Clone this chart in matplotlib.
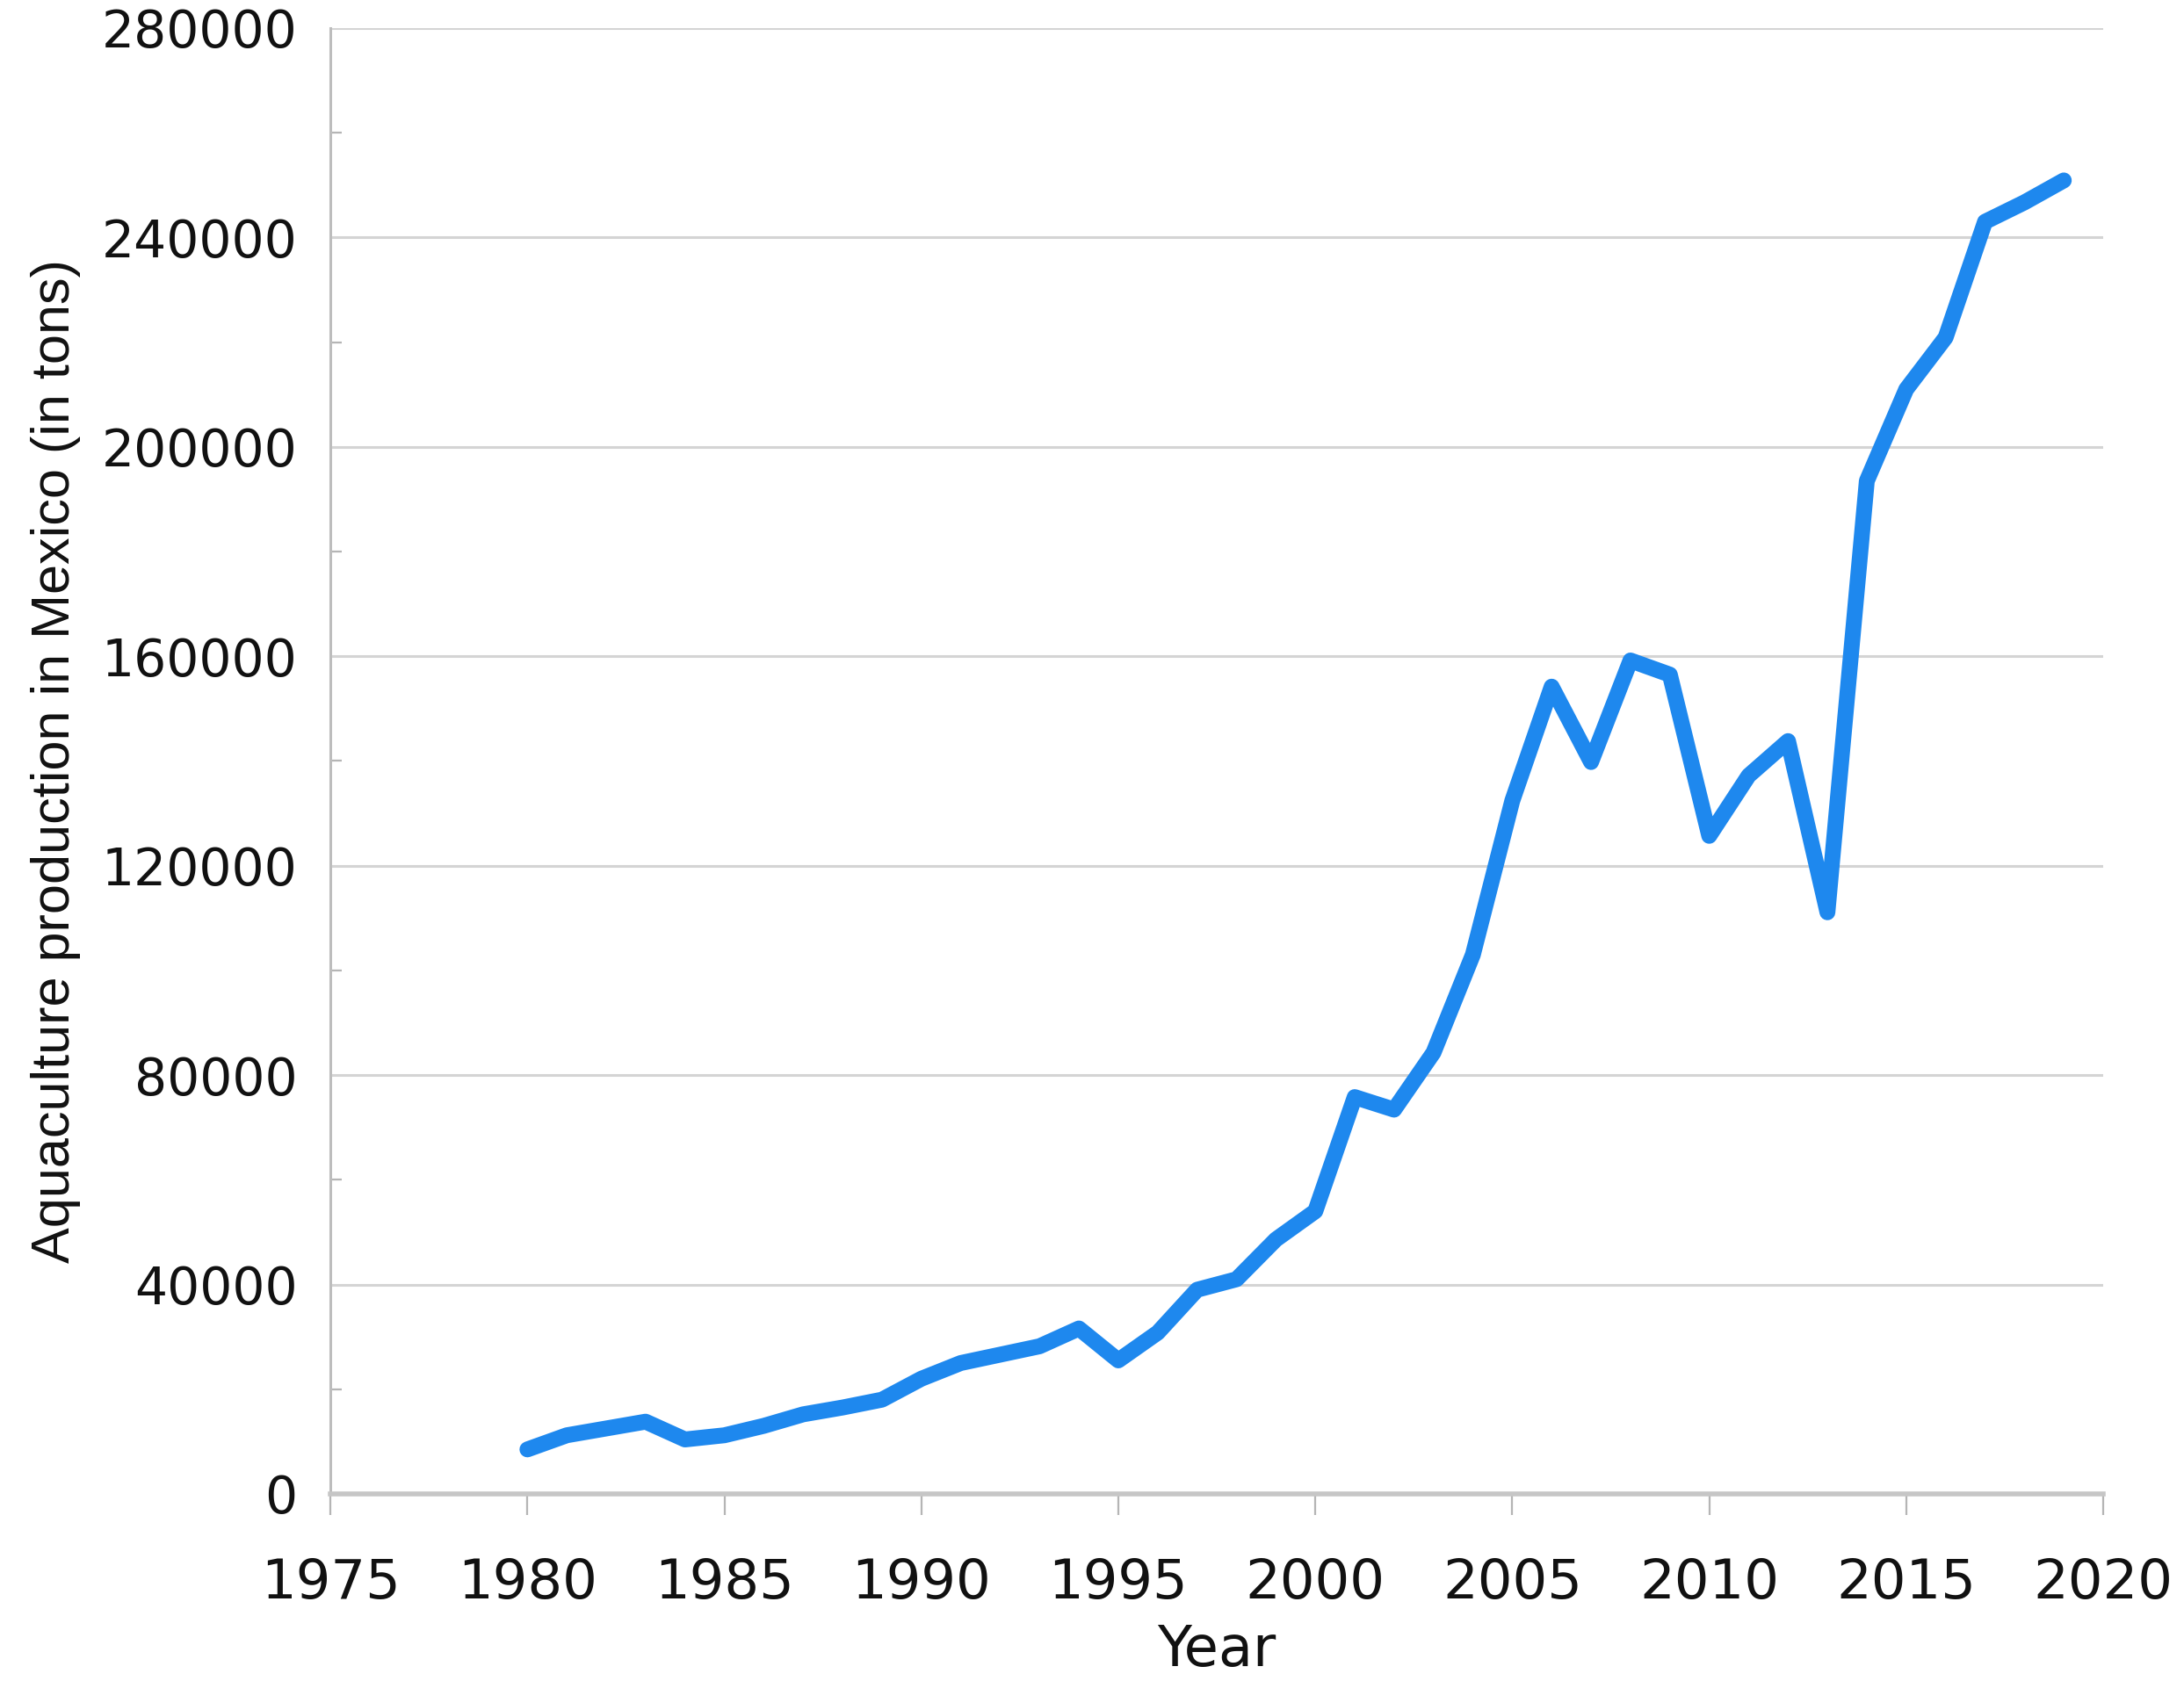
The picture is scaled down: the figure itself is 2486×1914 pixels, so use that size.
import matplotlib
matplotlib.use("Agg")
import matplotlib.pyplot as plt
from matplotlib.ticker import MultipleLocator

years = list(range(1980, 2020))
production = [8500, 11200, 12500, 13800, 10400, 11200, 13000, 15200, 16500, 18000,
              22000, 25000, 26600, 28200, 31600, 25500, 30800, 39000, 41000, 48600,
              54000, 75800, 73400, 84300, 103000, 132400, 154200, 139800, 159200, 156500,
              125700, 137200, 143800, 111100, 193500, 211000, 220900, 243000, 246700, 250900]

x_ticks = [1975, 1980, 1985, 1990, 1995, 2000, 2005, 2010, 2015, 2020]
y_ticks = [0, 40000, 80000, 120000, 160000, 200000, 240000, 280000]

fig = plt.figure(figsize=(24.86, 19.14), dpi=100)
ax = fig.add_axes([0.1513, 0.1113, 0.963 - 0.1513, 0.9833 - 0.1113])

ax.plot(years, production, color="#1E88EE", linewidth=13, solid_joinstyle="round",
        solid_capstyle="round", zorder=3)

ax.set_xlim(1975, 2020)
ax.set_ylim(0, 280000)
ax.set_xticks(x_ticks)
ax.set_yticks(y_ticks)
ax.set_xticklabels([str(v) for v in x_ticks])
ax.set_yticklabels([str(v) for v in y_ticks])
ax.yaxis.set_minor_locator(MultipleLocator(20000))

ax.grid(axis="y", which="major", color="#d4d4d4", linewidth=2.2, zorder=0)
ax.set_axisbelow(True)

for s in ["top", "right"]:
    ax.spines[s].set_visible(False)
ax.spines["left"].set_color("#bdbdbd")
ax.spines["left"].set_linewidth(2.2)
ax.spines["bottom"].set_color("#c6c6c6")
ax.spines["bottom"].set_linewidth(4)

ax.tick_params(axis="x", which="major", direction="out", length=17, width=1.6,
               color="#b5b5b5", pad=35, labelsize=45, labelcolor="#111111")
ax.tick_params(axis="y", which="major", length=0, pad=27, labelsize=42,
               labelcolor="#111111")
ax.tick_params(axis="y", which="minor", direction="in", length=9, width=1.6,
               color="#b5b5b5")

for lab in ax.get_xticklabels() + ax.get_yticklabels():
    lab.set_fontfamily("DejaVu Sans")

ax.set_xlabel("Year", fontsize=46, family="DejaVu Sans", color="#111111", labelpad=11)
ax.set_ylabel("Aquaculture production in Mexico (in tons)", fontsize=44,
              family="Liberation Sans", color="#111111")
ax.yaxis.set_label_coords(-0.141, 0.5)

fig.savefig("out.png", dpi=100, facecolor="white")
